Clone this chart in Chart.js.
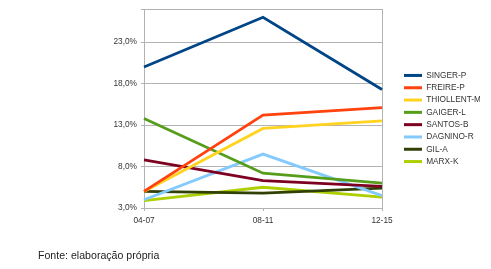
<!DOCTYPE html>
<html>
<head>
<meta charset="utf-8">
<script src="https://cdn.jsdelivr.net/npm/chart.js@4/dist/chart.umd.min.js"></script>
<style>
  html, body { margin: 0; padding: 0; background: #fff; }
  #wrap { position: relative; width: 491px; height: 269px; }
  #fonte { position: absolute; left: 38px; top: 249px; font: 10.6px "Liberation Sans", Arial, sans-serif; color: #222; }
</style>
</head>
<body>
<div id="wrap">
  <canvas id="chart" width="491" height="269"></canvas>
  <div id="fonte">Fonte: elaboração própria</div>
</div>
<script>
// periodos
const periods = ["04-07", "08-11", "12-15"];
// percentuais por autor
const singer = [20.0, 26.0, 17.3];
const freire = [5.0, 14.2, 15.1];
const thiollent = [5.0, 12.6, 13.5];
const gaiger = [13.8, 7.2, 6.0];
const santos = [8.8, 6.3, 5.6];
const dagnino = [4.0, 9.5, 4.5];
const gil = [5.0, 4.8, 5.4];
const marx = [3.9, 5.5, 4.3];
const yTicks = [3, 8, 13, 18, 23];

const series = [
  ["SINGER-P", singer, "#004586"],
  ["FREIRE-P", freire, "#ff420e"],
  ["THIOLLENT-M", thiollent, "#ffd320"],
  ["GAIGER-L", gaiger, "#579d1c"],
  ["SANTOS-B", santos, "#7e0021"],
  ["DAGNINO-R", dagnino, "#83caff"],
  ["GIL-A", gil, "#314004"],
  ["MARX-K", marx, "#aecf00"],
];

const font = { family: "'Liberation Sans', Arial, sans-serif", size: 8.3 };

new Chart(document.getElementById("chart").getContext("2d"), {
  type: "line",
  data: {
    labels: periods,
    datasets: series.map(([name, values, color]) => ({
      label: name,
      data: values,
      borderColor: color,
      backgroundColor: color,
      borderWidth: 2.8,
      pointRadius: 0,
      tension: 0,
    })),
  },
  options: {
    responsive: false,
    animation: false,
    layout: { padding: { top: 9, right: 11, bottom: 41, left: 0 } },
    plugins: {
      legend: {
        position: "right",
        labels: {
          boxWidth: 18,
          boxHeight: 3,
          padding: 4,
          font: font,
          color: "#333",
          generateLabels: (chart) =>
            Chart.defaults.plugins.legend.labels.generateLabels(chart).map((l) => ({ ...l, lineWidth: 0 })),
        },
      },
      tooltip: { enabled: false },
    },
    scales: {
      x: {
        offset: false,
        grid: {
          color: (ctx) => (ctx.index === 1 ? "transparent" : "#b3b3b3"),
          tickColor: "#b3b3b3",
          tickLength: 3,
        },
        border: { color: "#b3b3b3" },
        ticks: { font: font, color: "#333", padding: 5, maxRotation: 0 },
        afterFit: (s) => { s.height = 20; },
      },
      y: {
        min: 3,
        max: 27,
        afterBuildTicks: (s) => { s.ticks = yTicks.concat([27]).map((v) => ({ value: v })); },
        grid: { color: "#b3b3b3", tickLength: 3, tickColor: "#b3b3b3" },
        border: { color: "#b3b3b3" },
        ticks: {
          font: font,
          color: "#333",
          padding: 4,
          callback: (v) => (yTicks.includes(v) ? v.toFixed(1).replace(".", ",") + "%" : ""),
        },
        afterFit: (s) => { s.width = 144; },
      },
      // espaço entre o gráfico e a legenda
      gap: {
        position: "right",
        min: 3,
        max: 27,
        grid: { display: false },
        border: { display: false },
        ticks: { display: false },
        afterFit: (s) => { s.width = 18; },
      },
    },
  },
});
</script>
</body>
</html>
